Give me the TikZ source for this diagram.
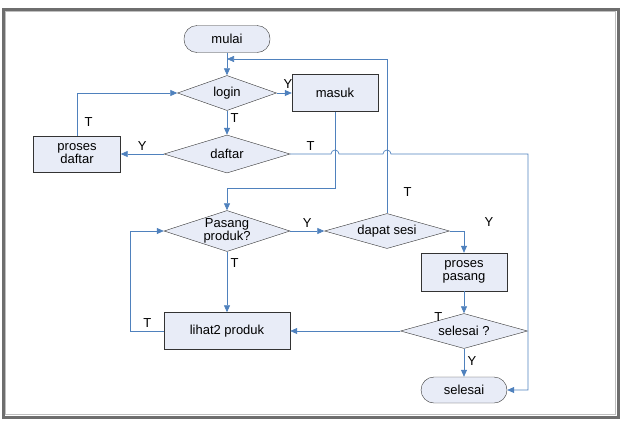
\documentclass[tikz,border=0pt]{standalone}
\usepackage{fontspec}
\setmainfont{Liberation Sans}
\usetikzlibrary{arrows.meta,calc,positioning,shapes.geometric}
\definecolor{flow}{HTML}{4F81BD}
\definecolor{boxfill}{HTML}{E8ECF7}
\definecolor{frame}{HTML}{6E6E6E}

\begin{document}
\begin{tikzpicture}[x=1pt,y=-1pt,>={Triangle[length=7pt,width=6pt]},
  font=\fontsize{13}{13}\selectfont,
  base/.style={draw=black!80,fill=boxfill,inner sep=0pt,align=center},
  box/.style={base,minimum width=86pt,minimum height=37pt},
  term/.style={base,rounded corners=13pt,minimum width=86pt,minimum height=27pt},
  dec/.style={base,diamond,aspect=3,inner sep=-5pt},
  link/.style={flow,line width=0.7pt}]
\useasboundingbox (0,0) rectangle (626,424);
\draw[frame,line width=3pt] (3,9) rectangle (618,417);
\draw[black!25,line width=0.8pt] (5.5,11.5) rectangle (615.5,414.5);

% nodes
\node[term] (mulai) at (227,39) {mulai};
\node[dec,minimum width=99pt,minimum height=35pt] (login) at (227,93) {login};
\node[box] (masuk) at (335,93) {masuk};
\node[dec,minimum width=126pt,minimum height=38pt] (daftar) at (227,154) {daftar};
\node[box,minimum width=87pt,minimum height=36pt] (pdaftar) at (77,154) {proses\\daftar};
\node[dec,minimum width=126pt,minimum height=41pt] (pasang) at (227,231) {Pasang\\produk?};
\node[dec,minimum width=125pt,minimum height=35pt] (sesi) at (387,231) {dapat sesi};
\node[box,minimum height=38pt] (ppasang) at (464,272) {proses\\pasang};
\node[dec,minimum width=127pt,minimum height=35pt] (cek) at (464,331) {selesai ?};
\node[box,minimum width=126pt] (lihat) at (227,331) {lihat2 produk};
\node[term,minimum height=26pt] (selesai) at (464,390) {selesai};
\coordinate (back) at (227,59);
\coordinate (mid) at (227,188);
\coordinate (edge) at (528,154);

% connectors
\draw[link,->] (mulai) -- (login);
\draw[link,->] (sesi.north) |- node[pos=0.07,right=13pt,black]{T} (back);
\draw[link,->] (login) -- node[pos=0.75,above=1pt,black]{Y} (masuk);
\draw[link,->] (login) -- node[pos=0.3,right,black]{T} (daftar);
\draw[link,->] (daftar) -- node[above,black]{Y} (pdaftar);
\draw[link,->] (pdaftar.north) |- node[pos=0.16,right=4pt,black]{T} (login);
\draw[link,->] (daftar.east) -- node[above,black]{T} ($(daftar.east -| masuk.south)+(-4,0)$)
  arc[start angle=180,end angle=360,radius=4]
  -- ($(daftar.east -| sesi.north)+(-4,0)$)
  arc[start angle=180,end angle=360,radius=4]
  -- (edge) |- (selesai.east);
\draw[link,->] (masuk.south) |- (mid) -- (pasang.north);
\draw[link,->] (pasang) -- node[above,black]{Y} (sesi);
\draw[link,->] (pasang) -- node[pos=0.18,right,black]{T} (lihat);
\draw[link,->] (lihat.west) -- node[above,black]{T} ++(-33,0) |- (pasang.west);
\draw[link,->] (sesi.east) -| node[pos=0.5,xshift=25pt,yshift=9pt,black]{Y} (ppasang.north);
\draw[link,->] (ppasang) -- (cek);
\draw[link,->] (cek) -- node[pos=0,xshift=38pt,yshift=14pt,black]{T} (lihat);
\draw[link,->] (cek) -- node[pos=0.45,right,black]{Y} (selesai);
\end{tikzpicture}
\end{document}
